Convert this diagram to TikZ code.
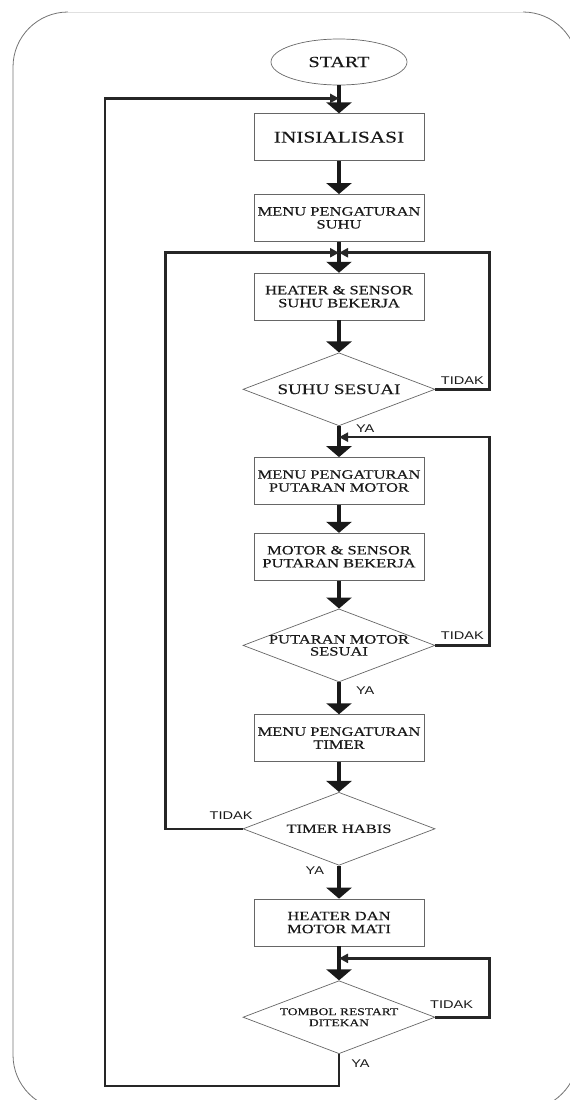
\documentclass[tikz,border=0pt]{standalone}
\usepackage{fontspec}
\newfontfamily\boxfont[FakeStretch=1.3,FakeBold=0.4]{Liberation Serif}
\newfontfamily\lblfont[FakeStretch=1.3]{Liberation Sans}
\usetikzlibrary{arrows.meta,positioning,shapes.geometric}

\begin{document}
\begin{tikzpicture}[
    box/.style={draw=black!60,line width=0.7pt,minimum width=170pt,minimum height=47pt,
                inner sep=0pt,align=center,text=black!90,
                font=\boxfont\fontsize{12.7pt}{13pt}\selectfont},
    dec/.style={diamond,draw=black!60,line width=0.7pt,minimum width=192pt,minimum height=73pt,
                shape aspect=2.63,inner xsep=-12pt,inner ysep=0pt,align=center,text=black!90,
                font=\boxfont\fontsize{12.7pt}{12pt}\selectfont},
    lbl/.style={font=\lblfont\fontsize{11.2pt}{12pt}\selectfont,text=black!90,inner sep=1pt},
    arr/.style={-{Triangle[width=25pt,length=11pt]},line width=4pt,black!90},
    back/.style={-{Triangle[width=9pt,length=9pt]},line width=2.6pt,black!85}
  ]
  \useasboundingbox (0,0) rectangle (570pt,-1100pt);
  \clip (0,0) rectangle (570pt,-1100pt);
  \draw[black!55,line width=0.8pt] (523pt,-12pt) arc[start angle=90,end angle=0,radius=55pt]
        -- (578pt,-1055pt) arc[start angle=0,end angle=-90,radius=55pt]
        -- (68pt,-1110pt) arc[start angle=270,end angle=180,radius=55pt]
        -- (13pt,-67pt) arc[start angle=180,end angle=90,radius=55pt];
  \draw[black!12,line width=0.8pt] (68pt,-12pt) -- (523pt,-12pt);

  \node[ellipse,draw=black!60,line width=0.7pt,minimum width=136pt,minimum height=46pt,
        text=black!90,font=\boxfont\fontsize{15.5pt}{16pt}\selectfont] (start) at (339pt,-62pt) {START};
  \node[box,below=28pt of start,font=\boxfont\fontsize{16.4pt}{17pt}\selectfont] (init) {INISIALISASI};
  \node[box,below=33pt of init] (msuhu) {MENU PENGATURAN\\SUHU};
  \node[box,below=31pt of msuhu] (kerja1) {HEATER \& SENSOR\\SUHU BEKERJA};
  \node[dec,below=32pt of kerja1,font=\boxfont\fontsize{14.6pt}{15pt}\selectfont] (suhu) {SUHU SESUAI};
  \node[box,below=31pt of suhu] (mputar) {MENU PENGATURAN\\PUTARAN MOTOR};
  \node[box,below=28pt of mputar] (kerja2) {MOTOR \& SENSOR\\PUTARAN BEKERJA};
  \node[dec,below=28pt of kerja2] (putar) {PUTARAN MOTOR\\SESUAI};
  \node[box,below=32pt of putar] (mtimer) {MENU PENGATURAN\\TIMER};
  \node[dec,below=30pt of mtimer] (timer) {TIMER HABIS};
  \node[box,below=33pt of timer] (mati) {HEATER DAN\\MOTOR MATI};
  \node[dec,below=34pt of mati,font=\boxfont\fontsize{10.4pt}{11pt}\selectfont] (restart) {TOMBOL RESTART\\DITEKAN};

  \coordinate[below=13pt of start] (j1);
  \coordinate[below=11pt of msuhu] (j2);
  \coordinate[below=11pt of suhu] (j3);
  \coordinate[below=12pt of mati] (j4);
  \coordinate[below=32pt of restart] (bot);
  \coordinate[left=234pt of bot] (botl);
  \coordinate[right=54pt of suhu.east] (r1);
  \coordinate[right=54pt of putar.east] (r2);
  \coordinate[right=54pt of restart.east] (r3);
  \coordinate[left=77pt of timer.west] (l1);

  \draw[arr] (start) -- (init);
  \draw[arr] (init) -- (msuhu);
  \draw[arr] (msuhu) -- (kerja1);
  \draw[arr] (kerja1) -- (suhu);
  \draw[arr] (suhu) -- node[lbl,pos=0.08,anchor=west,xshift=14pt]{YA} (mputar);
  \draw[arr] (mputar) -- (kerja2);
  \draw[arr] (kerja2) -- (putar);
  \draw[arr] (putar) -- node[lbl,pos=0.25,anchor=west,xshift=14pt]{YA} (mtimer);
  \draw[arr] (mtimer) -- (timer);
  \draw[arr] (timer) -- node[lbl,pos=0.15,anchor=east,xshift=-12pt]{YA} (mati);
  \draw[arr] (mati) -- (restart);

  \draw[back] (suhu.east) -- node[lbl,above=3pt]{TIDAK} (r1) |- (j2);
  \draw[back] (putar.east) -- node[lbl,above=4pt]{TIDAK} (r2) |- (j3);
  \draw[back] (timer.west) -- node[lbl,above=7pt,pos=0.15]{TIDAK} (l1) |- (j2);
  \draw[back] (restart.east) -- node[lbl,above=6pt,pos=0.3]{TIDAK} (r3) |- (j4);
  \draw[back] (restart.south) -- node[lbl,pos=0.3,anchor=west,xshift=10pt]{YA} (bot)
        -- (botl) |- (j1);
\end{tikzpicture}
\end{document}
